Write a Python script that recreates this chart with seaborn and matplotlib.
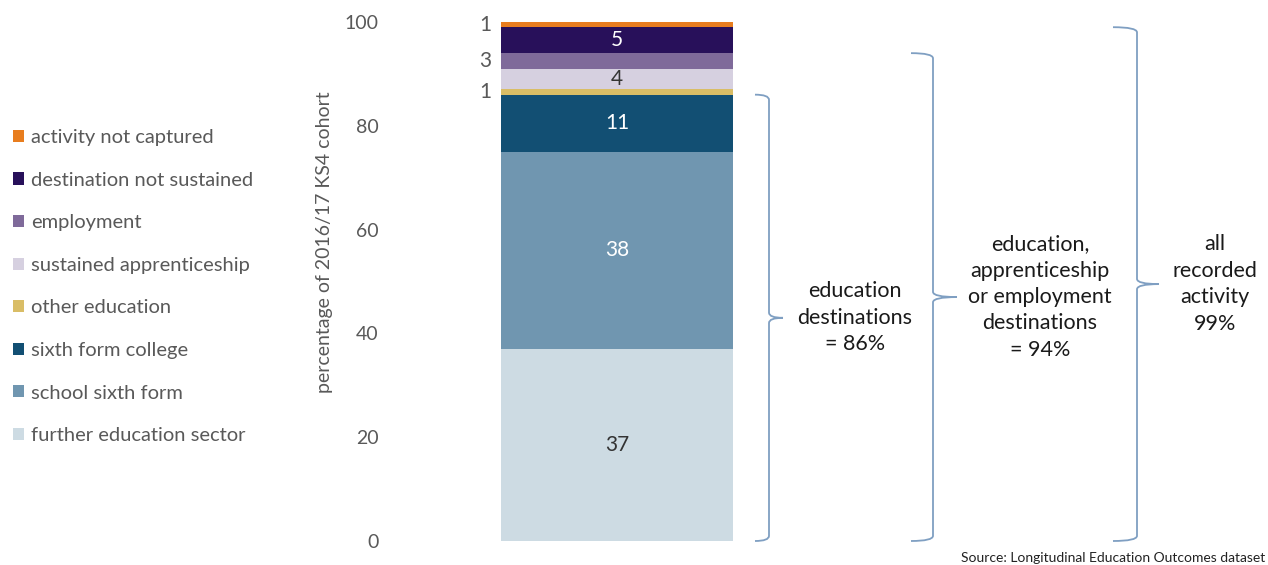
import matplotlib
matplotlib.use("Agg")
import matplotlib.pyplot as plt
from matplotlib.patches import Patch, PathPatch
from matplotlib.path import Path
from matplotlib.transforms import blended_transform_factory
import numpy as np
import seaborn as sns

# data, bottom to top of the stacked bar
categories = ["further education sector", "school sixth form", "sixth form college",
              "other education", "sustained apprenticeship", "employment",
              "destination not sustained", "activity not captured"]
values = [37, 38, 11, 1, 4, 3, 5, 1]
colors = ["#cddbe3", "#7096b0", "#124f73", "#d9bd66",
          "#d6d0e0", "#7f6a9a", "#28105a", "#e87d1e"]
label_colors = ["#333333", "white", "white", None, "#333333", None, "white", None]
cohort = ["2016/17"]

brace_tops = [86, 94, 99]
brace_texts = ["education\ndestinations\n= 86%",
               "education,\napprenticeship\nor employment\ndestinations\n= 94%",
               "all\nrecorded\nactivity\n99%"]

sns.set_theme(style="white")
plt.rcParams["font.family"] = ["Lato", "DejaVu Sans"]
grey = "#595959"

W, H = 1268, 565
fig = plt.figure(figsize=(W / 100, H / 100), dpi=100)
ax = fig.add_axes([501 / W, (H - 541) / H, 232 / W, 519 / H])

cum = np.cumsum(values)
for i in range(len(values) - 1, -1, -1):
    sns.barplot(x=cohort, y=[cum[i]], color=colors[i], saturation=1, width=1,
                linewidth=0, ax=ax)

ax.set_ylim(0, 100)
ax.set_xlim(-0.5, 0.5)
ax.set_yticks(range(0, 101, 20))
ax.tick_params(axis="y", length=0, pad=88, labelsize=14, labelcolor=grey)
ax.set_xticks([])
ax.set_xlabel("")
ax.set_ylabel("percentage of 2016/17 KS4 cohort", fontsize=14, color=grey)
ax.yaxis.set_label_coords(-0.725, 0.576)
for s in ax.spines.values():
    s.set_visible(False)

# segment labels
bottoms = cum - np.array(values)
for v, b, lc in zip(values, bottoms, label_colors):
    mid = b + v / 2
    if lc is not None:
        ax.text(0, mid, str(v), ha="center", va="center", fontsize=15, color=lc)
    else:
        ax.text(-0.54, mid, str(v), ha="right", va="center", fontsize=15, color=grey,
                clip_on=False)

# braces
tr = blended_transform_factory(fig.transFigure, ax.transData)
brace_x = [(755, 769, 783), (911, 933, 957), (1113, 1137, 1159)]
text_x = [855, 1040, 1215]
curl = 1.0
for (xe, xl, xt), top, txt, tx in zip(brace_x, brace_tops, brace_texts, text_x):
    xe, xl, xt = xe / W, xl / W, xt / W
    y0, y1 = 0, top
    ym = (y0 + y1) / 2
    verts = [(xe, y1), (xl, y1), (xl, y1 - curl), (xl, ym + curl), (xl, ym), (xt, ym),
             (xt, ym), (xl, ym), (xl, ym - curl), (xl, y0 + curl), (xl, y0), (xe, y0)]
    codes = [Path.MOVETO, Path.CURVE3, Path.CURVE3, Path.LINETO, Path.CURVE3, Path.CURVE3,
             Path.MOVETO, Path.CURVE3, Path.CURVE3, Path.LINETO, Path.CURVE3, Path.CURVE3]
    fig.patches.append(PathPatch(Path(verts, codes), transform=tr, fill=False,
                                 edgecolor="#7f9fc2", linewidth=1.3, clip_on=False))
    fig.text(tx / W, ym, txt, transform=tr, ha="center", va="center", fontsize=15.5,
             color="#1a1a1a", linespacing=1.4)

# legend, top entry first
handles = [Patch(facecolor=c, edgecolor="none") for c in colors[::-1]]
leg = fig.legend(handles, categories[::-1], loc="upper left",
                 bbox_to_anchor=(5 / W, (H - 121) / H), frameon=False, fontsize=14.5,
                 handlelength=0.55, handleheight=0.55, handletextpad=0.35,
                 labelspacing=1.27, borderaxespad=0)
for t in leg.get_texts():
    t.set_color(grey)

fig.text((W - 3) / W, (H - 558) / H, "Source: Longitudinal Education Outcomes dataset",
         fontsize=10, color="#222222", va="center", ha="right")

fig.savefig("out.png", dpi=100)
